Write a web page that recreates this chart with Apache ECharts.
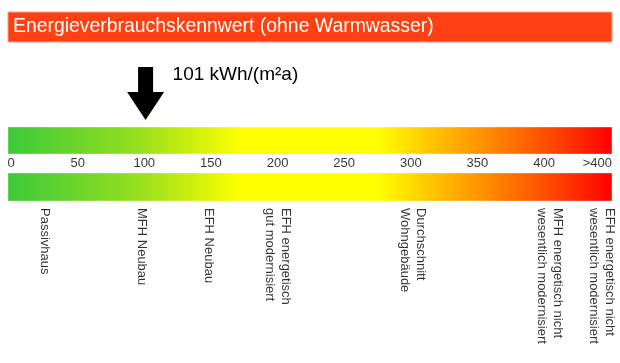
<!DOCTYPE html>
<html>
<head>
<meta charset="utf-8">
<script src="https://cdn.jsdelivr.net/npm/echarts@6/dist/echarts.min.js"></script>
<style>html,body{margin:0;padding:0;background:#fff}#c{width:620px;height:363px}</style>
</head>
<body>
<div id="c"></div>
<script>
// ---- data ----
const titleText = 'Energieverbrauchskennwert (ohne Warmwasser)';
const currentValue = 101;
const currentLabel = '101 kWh/(m²a)';
const scaleRange = [-2.25, 451];
const tickValues = [0, 50, 100, 150, 200, 250, 300, 350, 400, 440];
const tickLabels = ['0', '50', '100', '150', '200', '250', '300', '350', '400', '>400'];
const refValues = [25, 98, 148, 200, 301, 404, 443];
const refLabels = ['Passivhaus', 'MFH Neubau', 'EFH Neubau', 'EFH energetisch\ngut modernisiert',
  'Durchschnitt\nWohngebäude', 'MFH energetisch nicht\nwesentlich modernisiert', 'EFH energetisch nicht\nwesentlich modernisiert'];

// ---- layout constants ----
const FONT = '"Liberation Sans", Arial, sans-serif';
const BAR_ROWS = [[127, 154], [173, 201]];
const TICK_Y = 163;
const REF_Y = 208;

const chart = echarts.init(document.getElementById('c'), null, {renderer: 'canvas'});

function gradient() {
  return new echarts.graphic.LinearGradient(0, 0, 1, 0, [
    {offset: 0, color: '#3cc93a'},
    {offset: 0.22, color: '#98e01e'},
    {offset: 0.385, color: '#ffff00'},
    {offset: 0.61, color: '#ffff00'},
    {offset: 0.76, color: '#ffa000'},
    {offset: 0.88, color: '#ff5500'},
    {offset: 1, color: '#ff0000'}
  ]);
}

chart.setOption({
  animation: false,
  grid: {left: 8, right: 8, top: 0, bottom: 0},
  xAxis: {type: 'value', min: scaleRange[0], max: scaleRange[1], show: false},
  yAxis: {type: 'value', min: 0, max: 363, inverse: true, show: false},
  graphic: [
    {type: 'rect', shape: {x: 8, y: 12, width: 604, height: 30},
      style: {fill: '#ff4013', stroke: '#ffa08a', lineWidth: 1}},
    {type: 'text', x: 13, y: 27, style: {text: titleText, fill: '#fff', font: '19.4px ' + FONT, verticalAlign: 'middle'}}
  ],
  series: [
    {
      type: 'custom', silent: true,
      data: BAR_ROWS.map(() => scaleRange),
      renderItem: function (params, api) {
        const row = BAR_ROWS[params.dataIndex];
        const p0 = api.coord([api.value(0), row[0]]);
        const p1 = api.coord([api.value(1), row[1]]);
        return {type: 'rect', shape: {x: p0[0], y: p0[1], width: p1[0] - p0[0], height: p1[1] - p0[1]},
          style: {fill: gradient(), stroke: 'rgba(255,255,255,0.35)', lineWidth: 1}};
      }
    },
    {
      type: 'custom', silent: true,
      data: [[currentValue]],
      renderItem: function (params, api) {
        const c = api.coord([api.value(0), 0]);
        const x = c[0];
        const top = 67, neck = 92, tip = 120;
        return {type: 'group', children: [
          {type: 'polygon', shape: {points: [
            [x - 7.5, top], [x + 7.5, top], [x + 7.5, neck], [x + 18.5, neck],
            [x, tip], [x - 18.5, neck], [x - 7.5, neck]]}, style: {fill: '#000'}},
          {type: 'text', x: x + 27, y: 75, style: {text: currentLabel, fill: '#000', font: '19px ' + FONT, verticalAlign: 'middle'}}
        ]};
      }
    },
    {
      type: 'scatter', silent: true, symbolSize: 0,
      data: tickValues.map((v, i) => ({name: tickLabels[i], value: [v, TICK_Y]})),
      label: {show: true, position: 'inside', formatter: '{b}', color: '#000', fontSize: 13, fontFamily: FONT}
    },
    {
      type: 'scatter', silent: true, symbolSize: 0,
      data: refValues.map((v, i) => ({name: refLabels[i], value: [v, REF_Y]})),
      label: {show: true, position: 'inside', formatter: '{b}', rotate: -90, align: 'left', verticalAlign: 'middle',
        color: '#000', fontSize: 13, lineHeight: 16, fontFamily: FONT}
    }
  ]
});
</script>
</body>
</html>
